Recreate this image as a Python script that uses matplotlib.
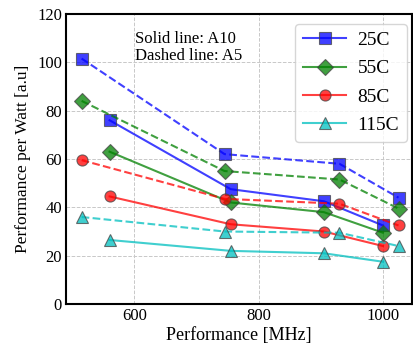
import matplotlib
matplotlib.use("Agg")
import matplotlib.pyplot as plt

plt.rcParams['font.family'] = ['Liberation Serif', 'DejaVu Serif']

# A10 (solid) and A5 (dashed) operating points
freq_a10 = [560, 755, 905, 1000]
freq_a5 = [515, 745, 930, 1025]

temps = ['25C', '55C', '85C', '115C']
ppw_a10 = {
    '25C': [76, 47.5, 42.5, 32.5],
    '55C': [63, 42, 38, 29.5],
    '85C': [44.5, 33, 30, 24],
    '115C': [26.5, 22, 21, 17.5],
}
ppw_a5 = {
    '25C': [101.5, 62, 58, 44],
    '55C': [84, 55, 51.5, 39.5],
    '85C': [59.5, 43.5, 41.5, 32.5],
    '115C': [36, 30, 29.5, 24],
}

colors = {'25C': 'b', '55C': 'g', '85C': 'r', '115C': 'c'}
markers = {'25C': 's', '55C': 'D', '85C': 'o', '115C': '^'}

fig = plt.figure(figsize=(4.13, 3.54), dpi=100)
ax = fig.add_axes([0.16, 0.141, 0.838, 0.82])

for t in temps:
    ax.plot(freq_a10, ppw_a10[t], '-', color=colors[t], marker=markers[t],
            markersize=8, markeredgecolor='#444444', markeredgewidth=0.8,
            alpha=0.75, lw=1.5, label=t)
    ax.plot(freq_a5, ppw_a5[t], '--', color=colors[t], marker=markers[t],
            markersize=8, markeredgecolor='#444444', markeredgewidth=0.8,
            alpha=0.75, lw=1.5)

ax.set_xlim(490, 1047)
ax.set_ylim(0, 120)
ax.set_xticks([600, 800, 1000])
ax.set_yticks(range(0, 121, 20))
ax.grid(True, ls='--', color='#c8c8c8', lw=0.7)
for s in ax.spines.values():
    s.set_linewidth(1.5)
ax.tick_params(labelsize=12, length=0, pad=3)

ax.set_xlabel('Performance [MHz]', fontsize=13, labelpad=2)
ax.set_ylabel('Performance per Watt [a.u]', fontsize=12.5, labelpad=4)

ax.text(0.2, 0.94, 'Solid line: A10\nDashed line: A5', transform=ax.transAxes,
        fontsize=12, va='top', ha='left', linespacing=1.05)

ax.legend(loc='upper right', fontsize=14, handlelength=2.2,
          borderpad=0.4, labelspacing=0.55, handletextpad=0.6,
          borderaxespad=0, bbox_to_anchor=(0.985, 0.966))

fig.savefig('out.png', dpi=100)
